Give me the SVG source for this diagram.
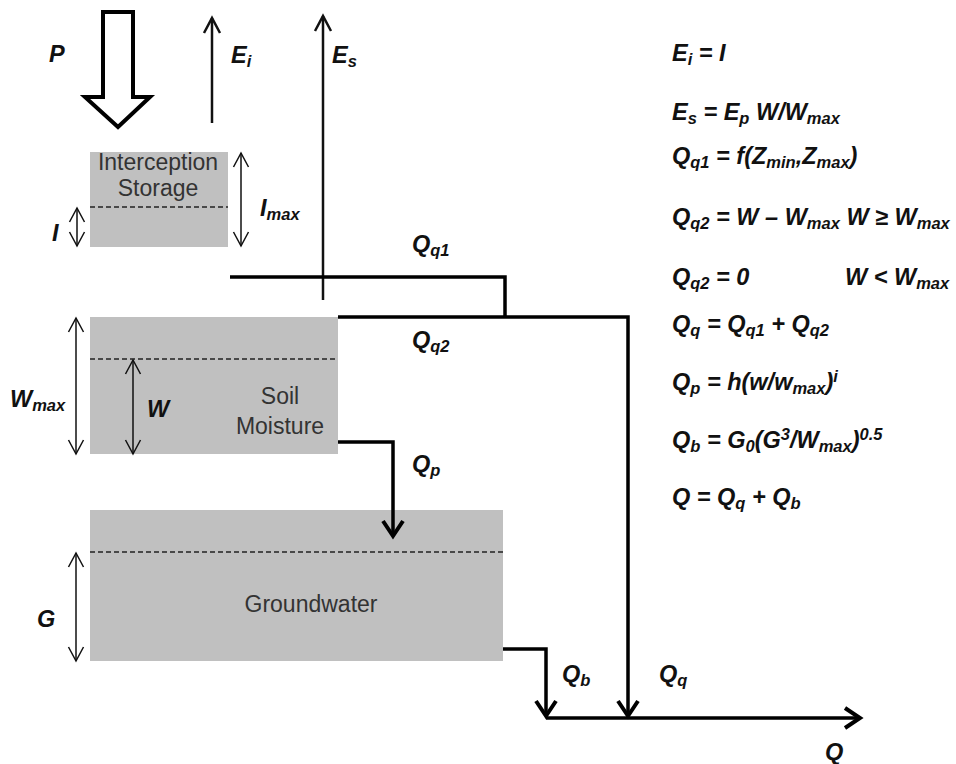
<svg xmlns="http://www.w3.org/2000/svg" width="956" height="764" viewBox="0 0 956 764">
<style>
.box{fill:#c0c0c0}
.dash{stroke:#222;stroke-width:1.3;stroke-dasharray:5 3;fill:none}
.thin{stroke:#111;stroke-width:1.5;fill:none}
.med{stroke:#111;stroke-width:2.5;fill:none}
.thick{stroke:#000;stroke-width:3.5;fill:none}
.bl{font-family:"Liberation Sans",Arial,sans-serif;font-size:23px;fill:#333}
.lb{font-family:"Liberation Sans",Arial,sans-serif;font-size:23.5px;font-weight:bold;font-style:italic;fill:#111}
.sb{font-size:16.5px}
</style>
<defs>
<marker id="ah" viewBox="-20 -12 24 24" refX="0" refY="0" markerWidth="24" markerHeight="24" markerUnits="userSpaceOnUse" orient="auto-start-reverse" overflow="visible">
<path d="M-14,-7.5 L0,0 L-14,7.5" fill="none" stroke="#111" stroke-width="1.5"/>
</marker>
<marker id="am" viewBox="-20 -12 24 24" refX="0" refY="0" markerWidth="24" markerHeight="24" markerUnits="userSpaceOnUse" orient="auto" overflow="visible">
<path d="M-15,-8 L0,0 L-15,8" fill="none" stroke="#111" stroke-width="2.5"/>
</marker>
<marker id="at" viewBox="-20 -14 24 28" refX="0" refY="0" markerWidth="24" markerHeight="28" markerUnits="userSpaceOnUse" orient="auto" overflow="visible">
<path d="M-15,-10 L0,0 L-15,10" fill="none" stroke="#000" stroke-width="4"/>
</marker>
</defs>

<g id="precip">
<polygon points="103,12 133,12 133,97 150,97 118,127 85,97 103,97" fill="#fff" stroke="#000" stroke-width="4" stroke-linejoin="miter"/>
<text class="lb" x="49" y="62">P</text>
</g>

<g id="interception">
<rect class="box" x="90" y="152" width="138" height="95"/>
<line class="dash" x1="90" y1="207" x2="228" y2="207"/>
<text class="bl" x="158" y="170" text-anchor="middle">Interception</text>
<text class="bl" x="158" y="196" text-anchor="middle">Storage</text>
<line class="thin" x1="77" y1="208" x2="77" y2="246" marker-start="url(#ah)" marker-end="url(#ah)"/>
<text class="lb" x="52" y="241">I</text>
<line class="thin" x1="241" y1="153" x2="241" y2="246" marker-start="url(#ah)" marker-end="url(#ah)"/>
<text class="lb" x="260" y="216">I<tspan class="sb" dy="4">max</tspan></text>
</g>

<g id="soil">
<rect class="box" x="90" y="317" width="248" height="137"/>
<line class="dash" x1="90" y1="359" x2="338" y2="359"/>
<text class="bl" x="280" y="404" text-anchor="middle">Soil</text>
<text class="bl" x="280" y="434" text-anchor="middle">Moisture</text>
<line class="thin" x1="76" y1="318" x2="76" y2="454" marker-start="url(#ah)" marker-end="url(#ah)"/>
<text class="lb" x="10" y="407">W<tspan class="sb" dy="4">max</tspan></text>
<line class="thin" x1="133" y1="360" x2="133" y2="454" marker-start="url(#ah)" marker-end="url(#ah)"/>
<text class="lb" x="147" y="417">W</text>
</g>

<g id="groundwater">
<rect class="box" x="90" y="510" width="413" height="151"/>
<line class="dash" x1="90" y1="552" x2="505" y2="552"/>
<text class="bl" x="311" y="612" text-anchor="middle">Groundwater</text>
<line class="thin" x1="76" y1="553" x2="76" y2="661" marker-start="url(#ah)" marker-end="url(#ah)"/>
<text class="lb" x="37" y="627">G</text>
</g>

<g id="connectors">
<line class="med" x1="212" y1="123" x2="212" y2="18" marker-end="url(#am)"/>
<line class="med" x1="323" y1="300" x2="323" y2="16" marker-end="url(#am)"/>
<path class="thick" d="M230,277 H505 V317"/>
<path class="thick" d="M338,317 H628 V716" marker-end="url(#at)"/>
<path class="thick" d="M338,442 H393 V536" marker-end="url(#at)"/>
<path class="thick" d="M503,649 H546 V716" marker-end="url(#at)"/>
<path class="thick" d="M546,718 H860" marker-end="url(#at)"/>
</g>

<g id="flow-labels">
<text class="lb" x="231" y="63">E<tspan class="sb" dy="4">i</tspan></text>
<text class="lb" x="332" y="63">E<tspan class="sb" dy="4">s</tspan></text>
<text class="lb" x="412" y="252">Q<tspan class="sb" dy="4">q1</tspan></text>
<text class="lb" x="412" y="348">Q<tspan class="sb" dy="4">q2</tspan></text>
<text class="lb" x="412" y="472">Q<tspan class="sb" dy="4">p</tspan></text>
<text class="lb" x="562" y="682">Q<tspan class="sb" dy="4">b</tspan></text>
<text class="lb" x="659" y="682">Q<tspan class="sb" dy="4">q</tspan></text>
<text class="lb" x="825" y="760">Q</text>
</g>

<g id="equations">
<text class="lb" x="672" y="61">E<tspan class="sb" dy="4">i</tspan><tspan dy="-4"> = I</tspan></text>
<text class="lb" x="672" y="120">E<tspan class="sb" dy="4">s</tspan><tspan dy="-4"> = E</tspan><tspan class="sb" dy="4">p</tspan><tspan dy="-4"> W/W</tspan><tspan class="sb" dy="4">max</tspan></text>
<text class="lb" x="672" y="164">Q<tspan class="sb" dy="4">q1</tspan><tspan dy="-4"> = f(Z</tspan><tspan class="sb" dy="4">min</tspan><tspan dy="-4">,Z</tspan><tspan class="sb" dy="4">max</tspan><tspan dy="-4">)</tspan></text>
<text class="lb" x="672" y="225">Q<tspan class="sb" dy="4">q2</tspan><tspan dy="-4"> = W – W</tspan><tspan class="sb" dy="4">max</tspan><tspan dy="-4"> W ≥ W</tspan><tspan class="sb" dy="4">max</tspan></text>
<text class="lb" x="672" y="285">Q<tspan class="sb" dy="4">q2</tspan><tspan dy="-4"> = 0</tspan></text>
<text class="lb" x="845" y="285">W &lt; W<tspan class="sb" dy="4">max</tspan></text>
<text class="lb" x="672" y="332">Q<tspan class="sb" dy="4">q</tspan><tspan dy="-4"> = Q</tspan><tspan class="sb" dy="4">q1</tspan><tspan dy="-4"> + Q</tspan><tspan class="sb" dy="4">q2</tspan></text>
<text class="lb" x="672" y="390">Q<tspan class="sb" dy="4">p</tspan><tspan dy="-4"> = h(w/w</tspan><tspan class="sb" dy="4">max</tspan><tspan dy="-4">)</tspan><tspan class="sb" dy="-8">i</tspan></text>
<text class="lb" x="672" y="448">Q<tspan class="sb" dy="4">b</tspan><tspan dy="-4"> = G</tspan><tspan class="sb" dy="4">0</tspan><tspan dy="-4">(G</tspan><tspan class="sb" dy="-8">3</tspan><tspan dy="8">/W</tspan><tspan class="sb" dy="4">max</tspan><tspan dy="-4">)</tspan><tspan class="sb" dy="-8">0.5</tspan></text>
<text class="lb" x="672" y="505">Q = Q<tspan class="sb" dy="4">q</tspan><tspan dy="-4"> + Q</tspan><tspan class="sb" dy="4">b</tspan></text>
</g>
</svg>
